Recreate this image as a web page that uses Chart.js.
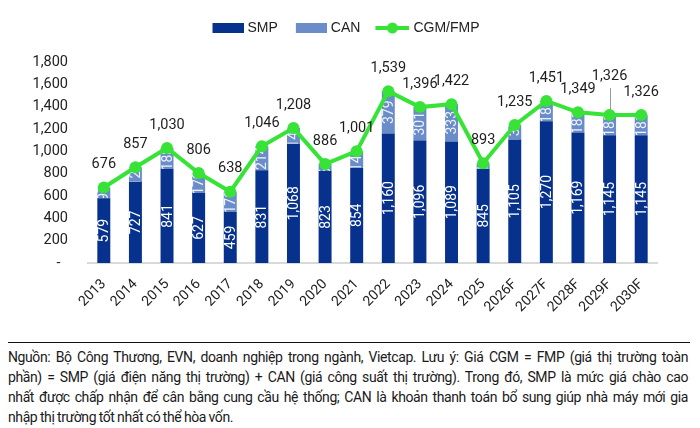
<!DOCTYPE html>
<html>
<head>
<meta charset="utf-8">
<script src="https://cdn.jsdelivr.net/npm/chart.js@4.4.1/dist/chart.umd.min.js"></script>
<style>
  html, body { margin: 0; padding: 0; background: #fff; }
  #wrap { position: relative; width: 700px; height: 428px; overflow: hidden; background: #fff; }
  #chartBox { position: absolute; left: 0; top: 0; width: 700px; height: 340px; }
  #rule { position: absolute; left: 8px; top: 342px; width: 682px; height: 0; border-top: 1.6px solid #111; }
  #note { position: absolute; left: 8px; top: 347px; width: 680px; font-family: Roboto, sans-serif; font-size: 14px; line-height: 20px; color: #1a1a1a; letter-spacing: -0.4px; word-spacing: -0.5px; }
  #note .j { text-align: justify; text-align-last: justify; white-space: nowrap; }
  #note .l { white-space: nowrap; }
</style>
</head>
<body>
<div id="wrap">
  <div id="chartBox"><canvas id="c"></canvas></div>
  <div id="rule"></div>
  <div id="note">
    <div class="j">Nguồn: Bộ Công Thương, EVN, doanh nghiệp trong ngành, Vietcap. Lưu ý: Giá CGM = FMP (giá thị trường toàn</div>
    <div class="j">phần) = SMP (giá điện năng thị trường) + CAN (giá công suất thị trường). Trong đó, SMP là mức giá chào cao</div>
    <div class="j">nhất được chấp nhận để cân bằng cung cầu hệ thống; CAN là khoản thanh toán bổ sung giúp nhà máy mới gia</div>
    <div class="l">nhập thị trường tốt nhất có thể hòa vốn.</div>
  </div>
</div>
<script>
// ---- data ----
const years = ['2013','2014','2015','2016','2017','2018','2019','2020','2021','2022','2023','2024','2025','2026F','2027F','2028F','2029F','2030F'];
const smp = [579, 727, 841, 627, 459, 831, 1068, 823, 854, 1160, 1096, 1089, 845, 1105, 1270, 1169, 1145, 1145];
const can = [97, 129, 188, 179, 179, 214, 141, 64, 147, 379, 301, 333, 48, 130, 181, 181, 181, 181];
const cgm = [676, 857, 1030, 806, 638, 1046, 1208, 886, 1001, 1539, 1396, 1422, 893, 1235, 1451, 1349, 1326, 1326];
const seriesNames = ['SMP', 'CAN', 'CGM/FMP'];
const yMax = 1800;
const yStep = 200;

// ---- styles ----
const NAVY = '#06318c';
const LIGHT = '#6a8cc8';
const GREEN = '#36e336';
const leaderIndex = 16; // label lifted with a leader line

function fmt(v) { return v.toLocaleString('en-US'); }

function legendImg(kind, color) {
  const c = document.createElement('canvas');
  c.width = 37; c.height = 14;
  const g = c.getContext('2d');
  if (kind === 'box') {
    g.fillStyle = color;
    g.fillRect(6, 2, 31, 10);
  } else {
    g.strokeStyle = color; g.lineWidth = 4;
    g.beginPath(); g.moveTo(3, 7); g.lineTo(37, 7); g.stroke();
    g.fillStyle = color;
    g.beginPath(); g.arc(20, 7, 5.5, 0, Math.PI * 2); g.fill();
  }
  return c;
}
const legendImages = [legendImg('box', NAVY), legendImg('box', LIGHT), legendImg('line', GREEN)];

const legendMargin = {
  id: 'legendMargin',
  beforeInit(chart) {
    const orig = chart.legend.fit;
    chart.legend.fit = function () {
      orig.bind(chart.legend)();
      this.height += 17;
    };
  }
};

const labelPlugin = {
  id: 'valueLabels',
  afterDatasetDraw(chart, args) {
    const meta = args.meta;
    if (meta.type !== 'bar') return;
    const ctx = chart.ctx;
    const values = chart.data.datasets[args.index].data;
    ctx.save();
    ctx.font = '14px Roboto';
    ctx.fillStyle = args.index === 0 ? '#ffffff' : '#eef2fa';
    ctx.textAlign = 'center';
    ctx.textBaseline = 'middle';
    meta.data.forEach((el, i) => {
      const cy = (el.y + el.base) / 2;
      ctx.save();
      ctx.translate(el.x, cy);
      ctx.rotate(-Math.PI / 2);
      ctx.fillText(fmt(values[i]), 0, 1);
      ctx.restore();
    });
    ctx.restore();
  },
  afterDatasetsDraw(chart) {
    const ctx = chart.ctx;
    const meta = chart.getDatasetMeta(2);
    ctx.save();
    ctx.font = '14.5px Roboto';
    ctx.fillStyle = '#1e1e1e';
    ctx.textAlign = 'center';
    ctx.textBaseline = 'middle';
    meta.data.forEach((pt, i) => {
      if (i === leaderIndex) {
        ctx.strokeStyle = '#9a9a9a';
        ctx.lineWidth = 1;
        ctx.beginPath();
        ctx.moveTo(Math.round(pt.x) + 0.5, pt.y - 27);
        ctx.lineTo(Math.round(pt.x) + 0.5, pt.y - 5);
        ctx.stroke();
        ctx.fillText(fmt(cgm[i]), pt.x, pt.y - 39);
      } else {
        ctx.fillText(fmt(cgm[i]), pt.x, pt.y - 23);
      }
    });
    ctx.restore();
  }
};

const defaultGen = Chart.defaults.plugins.legend.labels.generateLabels;

new Chart(document.getElementById('c'), {
  data: {
    labels: years,
    datasets: [
      { type: 'bar', label: seriesNames[0], data: smp, backgroundColor: NAVY, stack: 'p', barPercentage: 0.41, categoryPercentage: 1, order: 1 },
      { type: 'bar', label: seriesNames[1], data: can, backgroundColor: LIGHT, stack: 'p', barPercentage: 0.41, categoryPercentage: 1, order: 1 },
      { type: 'line', label: seriesNames[2], data: cgm, borderColor: GREEN, backgroundColor: GREEN, borderWidth: 4,
        pointRadius: 6, pointBackgroundColor: GREEN, pointBorderWidth: 0, stack: 'l', order: 0, tension: 0 }
    ]
  },
  options: {
    responsive: true,
    maintainAspectRatio: false,
    animation: false,
    layout: { padding: { top: 6, right: 43, left: 32, bottom: 0 } },
    plugins: {
      tooltip: { enabled: false },
      legend: {
        position: 'top',
        labels: {
          usePointStyle: true,
          pointStyleWidth: 31,
          padding: 15,
          color: '#222',
          font: { family: "'Liberation Sans', Arial, sans-serif", size: 14 },
          sort: (a, b) => a.datasetIndex - b.datasetIndex,
          generateLabels(chart) {
            const items = defaultGen(chart);
            items.forEach(it => { it.pointStyle = legendImages[it.datasetIndex]; });
            return items;
          }
        }
      }
    },
    scales: {
      x: {
        stacked: true,
        grid: { display: false, drawTicks: false },
        border: { display: true, color: '#d9d9d9', width: 2 },
        ticks: { maxRotation: 45, minRotation: 45, padding: 13, color: '#222', font: { family: 'Roboto', size: 14 } },
        afterFit(scale) { scale.height = 77; }
      },
      y: {
        stacked: true,
        min: 0, max: yMax,
        grid: { display: false, drawTicks: false },
        border: { display: false },
        ticks: {
          stepSize: yStep, padding: 20, color: '#222', font: { family: 'Roboto', size: 14.5 },
          callback: v => v === 0 ? '-\u2002' : fmt(v)
        },
        afterFit(scale) { scale.width = 56; }
      }
    }
  },
  plugins: [legendMargin, labelPlugin]
});
</script>
</body>
</html>
